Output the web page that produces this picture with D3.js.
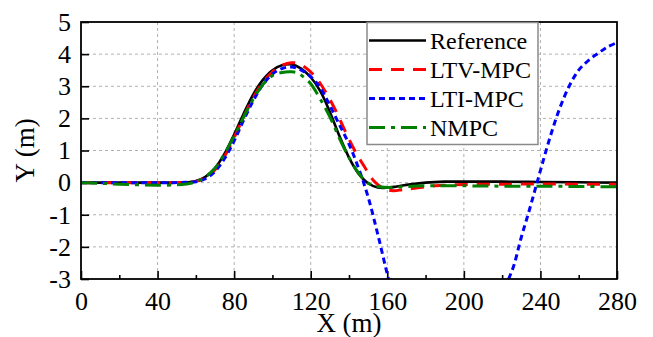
<!DOCTYPE html>
<html>
<head>
<meta charset="utf-8">
<script src="https://cdn.jsdelivr.net/npm/d3@7"></script>
<style>
  body { margin: 0; background: #fff; }
  svg text { font-family: "Liberation Serif", "Times New Roman", Times, serif; fill: #000; }
</style>
</head>
<body>
<svg id="chart"></svg>
<script>
// Reference path
var refX = [0, 20, 40, 50, 55, 60, 65, 70, 75, 80, 85, 90, 95, 100, 105, 110, 115, 120, 125, 130, 135, 140, 145, 150, 155, 160, 165, 170, 180, 190, 200, 220, 240, 260, 280];
var refY = [0, 0, 0, 0, 0.01, 0.05, 0.18, 0.45, 0.9, 1.5, 2.15, 2.75, 3.2, 3.5, 3.65, 3.68, 3.55, 3.28, 2.85, 2.2, 1.45, 0.78, 0.28, -0.02, -0.15, -0.16, -0.12, -0.07, 0, 0.03, 0.03, 0.03, 0.02, 0.01, 0];

// LTV-MPC
var ltvX = [0, 20, 40, 50, 55, 60, 65, 70, 75, 80, 85, 90, 95, 100, 105, 110, 113, 118, 123, 128, 133, 138, 143, 148, 153, 158, 163, 168, 175, 185, 200, 220, 240, 260, 280];
var ltvY = [0, 0, 0, 0, 0.01, 0.04, 0.15, 0.4, 0.82, 1.4, 2.05, 2.65, 3.12, 3.45, 3.65, 3.73, 3.72, 3.55, 3.25, 2.8, 2.25, 1.6, 1.0, 0.5, 0.05, -0.18, -0.25, -0.22, -0.17, -0.1, -0.06, -0.05, -0.04, -0.05, -0.05];

// LTI-MPC
var ltiX = [0, 20, 40, 50, 55, 60, 65, 70, 75, 80, 85, 90, 95, 100, 105, 110, 115, 120, 125, 130, 135, 140, 145, 150, 155, 160, 165, 175, 190, 205, 215, 222, 226, 230, 234, 238, 242, 246, 250, 255, 260, 265, 270, 275, 280];
var ltiY = [0, 0, 0, 0, 0.01, 0.03, 0.12, 0.35, 0.75, 1.3, 1.95, 2.55, 3.05, 3.38, 3.55, 3.6, 3.5, 3.3, 2.95, 2.4, 1.8, 1.2, 0.45, -0.45, -1.6, -2.85, -4.0, -5.5, -6.2, -5.5, -4.3, -3.2, -2.6, -1.7, -0.9, -0.05, 0.8, 1.6, 2.3, 3.0, 3.5, 3.8, 4.02, 4.22, 4.36];

// NMPC
var nmpcX = [0, 10, 20, 30, 40, 50, 55, 60, 65, 70, 75, 80, 85, 90, 95, 100, 105, 110, 113, 116, 120, 125, 130, 135, 140, 145, 150, 155, 160, 165, 170, 180, 200, 220, 240, 260, 280];
var nmpcY = [0, -0.02, -0.05, -0.07, -0.08, -0.07, -0.04, 0.02, 0.18, 0.45, 0.9, 1.45, 2.05, 2.6, 3.05, 3.33, 3.43, 3.45, 3.42, 3.3, 3.08, 2.6, 2.05, 1.38, 0.78, 0.3, -0.02, -0.12, -0.15, -0.14, -0.12, -0.1, -0.1, -0.11, -0.11, -0.12, -0.13];

var xTicks = [0, 40, 80, 120, 160, 200, 240, 280];
var xMinor = [20, 60, 100, 140, 180, 220, 260];
var yTicks = [-3, -2, -1, 0, 1, 2, 3, 4, 5];
var seriesNames = ["Reference", "LTV-MPC", "LTI-MPC", "NMPC"];

var serifFont = "'Liberation Serif', 'Times New Roman', Times, serif";

var outerWidth = 653;
var outerHeight = 337;
var margin = { left: 81, top: 22, right: 36, bottom: 58 };
var innerWidth = outerWidth - margin.left - margin.right;
var innerHeight = outerHeight - margin.top - margin.bottom;

var styles = [
  { color: "#000000", width: 2.6, dash: null },
  { color: "#ff0000", width: 3, dash: "13,9" },
  { color: "#0000ff", width: 3, dash: "6,4" },
  { color: "#008000", width: 3, dash: "16,6,4,6" }
];

var series = [
  d3.zip(refX, refY),
  d3.zip(ltvX, ltvY),
  d3.zip(ltiX, ltiY),
  d3.zip(nmpcX, nmpcY)
];

var svg = d3.select("#chart")
  .attr("width", outerWidth)
  .attr("height", outerHeight)
  .attr("font-family", serifFont);

svg.append("defs").append("clipPath")
  .attr("id", "plotclip")
  .append("rect")
  .attr("width", innerWidth)
  .attr("height", innerHeight);

var g = svg.append("g")
  .attr("transform", "translate(" + margin.left + "," + margin.top + ")");

var x = d3.scaleLinear().domain([0, 280]).range([0, innerWidth]);
var y = d3.scaleLinear().domain([-3, 5]).range([innerHeight, 0]);

// grid
g.append("g").selectAll("line")
  .data(xTicks.slice(1, -1))
  .enter().append("line")
  .attr("x1", d => x(d)).attr("x2", d => x(d))
  .attr("y1", 0).attr("y2", innerHeight)
  .attr("stroke", "#b0b0b0").attr("stroke-width", 1)
  .attr("stroke-dasharray", "3,3");

g.append("g").selectAll("line")
  .data(yTicks.slice(1, -1))
  .enter().append("line")
  .attr("x1", 0).attr("x2", innerWidth)
  .attr("y1", d => y(d)).attr("y2", d => y(d))
  .attr("stroke", "#b0b0b0").attr("stroke-width", 1)
  .attr("stroke-dasharray", "3,3");

// axes, ticks pointing inward
var xAxis = d3.axisBottom(x).tickValues(xTicks).tickSize(-8).tickPadding(13);
var xAxisG = g.append("g")
  .attr("transform", "translate(0," + innerHeight + ")")
  .call(xAxis);

var xMinorG = g.append("g")
  .attr("transform", "translate(0," + innerHeight + ")")
  .call(d3.axisBottom(x).tickValues(xMinor).tickSize(-4).tickFormat(""));

var yAxis = d3.axisLeft(y).tickValues(yTicks).tickSize(-8).tickPadding(10);
var yAxisG = g.append("g").call(yAxis);

[xAxisG, xMinorG, yAxisG].forEach(function (a) {
  a.attr("font-family", serifFont).attr("font-size", 26);
  a.select(".domain").remove();
  a.selectAll(".tick line").attr("stroke", "#000").attr("stroke-width", 1.6);
  a.selectAll("text").attr("fill", "#000");
});
xAxisG.selectAll("text").attr("dy", "0.71em");
yAxisG.selectAll("text").text(d => d < 0 ? "-" + Math.abs(d) : d);

// curves
var line = d3.line()
  .x(d => x(d[0]))
  .y(d => y(d[1]))
  .curve(d3.curveCatmullRom.alpha(0.5));

var curvesG = g.append("g").attr("clip-path", "url(#plotclip)");
curvesG.selectAll("path")
  .data(series)
  .enter().append("path")
  .attr("d", line)
  .attr("fill", "none")
  .attr("stroke", (d, i) => styles[i].color)
  .attr("stroke-width", (d, i) => styles[i].width)
  .attr("stroke-dasharray", (d, i) => styles[i].dash);

// frame
g.append("rect")
  .attr("width", innerWidth)
  .attr("height", innerHeight)
  .attr("fill", "none")
  .attr("stroke", "#000")
  .attr("stroke-width", 1.8);

// legend
var legend = g.append("g").attr("transform", "translate(286,0.5)");
legend.append("rect")
  .attr("width", 171)
  .attr("height", 122)
  .attr("fill", "#fff")
  .attr("stroke", "#8a8a8a")
  .attr("stroke-width", 1.5);

var items = legend.selectAll(".item")
  .data(seriesNames)
  .enter().append("g")
  .attr("class", "item")
  .attr("transform", (d, i) => "translate(0," + (18 + i * 29) + ")");

items.append("line")
  .attr("x1", 2).attr("x2", 59)
  .attr("stroke", (d, i) => styles[i].color)
  .attr("stroke-width", (d, i) => styles[i].width)
  .attr("stroke-dasharray", (d, i) => styles[i].dash);

items.append("text")
  .attr("x", 63)
  .attr("y", 8)
  .attr("font-size", 24)
  .text(d => d);

// axis titles
svg.append("text")
  .attr("x", margin.left + innerWidth / 2)
  .attr("y", 332)
  .attr("text-anchor", "middle")
  .attr("font-size", 27)
  .text("X (m)");

svg.append("text")
  .attr("transform", "translate(34," + (margin.top + innerHeight / 2) + ") rotate(-90)")
  .attr("text-anchor", "middle")
  .attr("font-size", 27)
  .text("Y (m)");
</script>
</body>
</html>
